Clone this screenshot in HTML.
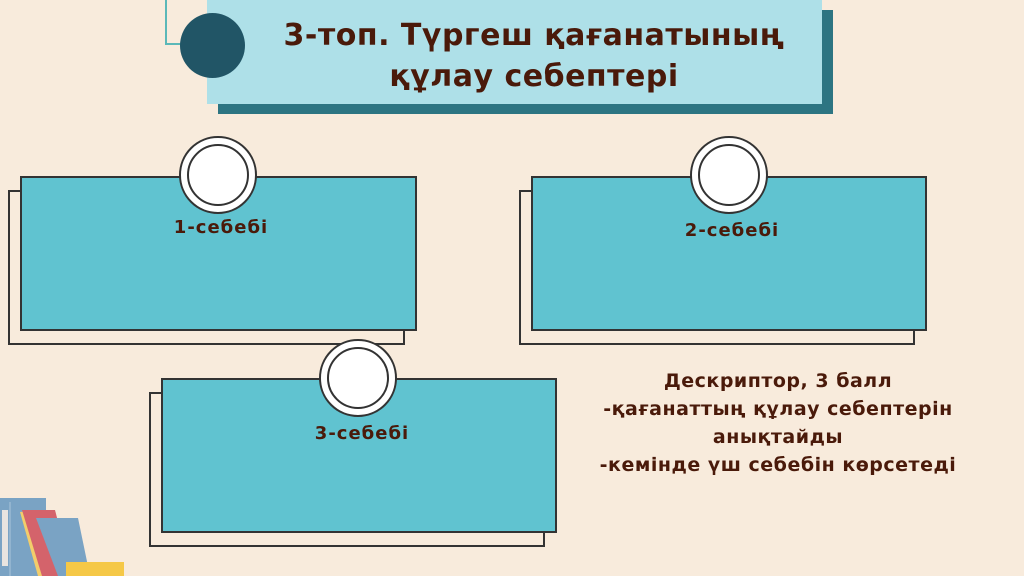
<!DOCTYPE html>
<html><head><meta charset="utf-8"><style>
body{margin:0;width:1024px;height:576px;background:#f8ebdc;position:relative;overflow:hidden;font-family:"DejaVu Sans","Liberation Sans",sans-serif;color:#4a1a0a}
.a{position:absolute;box-sizing:border-box}
.back{border:2px solid #333;background:#f8ebdc}
.front{border:2px solid #333;background:#60c3d0}
.ring{border-radius:50%;background:#fff;border:2px solid #333;width:78px;height:78px}
.ring::after{content:"";position:absolute;left:6px;top:6px;width:62px;height:62px;border-radius:50%;border:2px solid #333;box-sizing:border-box}
.lbl{font-weight:bold;font-size:18px;letter-spacing:1px;text-align:center}
</style></head><body>
<div class="a" style="left:165px;top:-2px;width:45px;height:47px;border:2px solid #5bb8b8;border-top:none"></div>
<div class="a" style="left:218px;top:10px;width:615px;height:104px;background:#2d7582"></div>
<div class="a" style="left:207px;top:0;width:615px;height:104px;background:#aee0e8"></div>
<div class="a" style="left:180px;top:13px;width:65px;height:65px;border-radius:50%;background:#215566"></div>
<div class="a" style="left:234px;top:15px;width:600px;text-align:center;font-weight:bold;font-size:30px;letter-spacing:0.5px;line-height:41px">3-топ. Түргеш қағанатының<br>құлау себептері</div>

<div class="a back" style="left:8px;top:190px;width:397px;height:155px"></div>
<div class="a front" style="left:20px;top:176px;width:397px;height:155px"></div>
<div class="a ring" style="left:179px;top:136px"></div>
<div class="a lbl" style="left:20px;top:217px;width:402px">1-себебі</div>

<div class="a back" style="left:519px;top:190px;width:396px;height:155px"></div>
<div class="a front" style="left:531px;top:176px;width:396px;height:155px"></div>
<div class="a ring" style="left:690px;top:136px"></div>
<div class="a lbl" style="left:531px;top:220px;width:402px">2-себебі</div>

<div class="a back" style="left:149px;top:392px;width:396px;height:155px"></div>
<div class="a front" style="left:161px;top:378px;width:396px;height:155px"></div>
<div class="a ring" style="left:319px;top:339px"></div>
<div class="a lbl" style="left:161px;top:423px;width:402px">3-себебі</div>

<div class="a" style="left:553px;top:367px;width:450px;text-align:center;font-weight:bold;font-size:19px;letter-spacing:0.5px;line-height:28px">Дескриптор, 3 балл<br>-қағанаттың құлау себептерін<br>анықтайды<br>-кемінде үш себебін көрсетеді</div>

<svg class="a" style="left:0;top:480px" width="140" height="96">
<rect x="0" y="18" width="46" height="78" fill="#7aa3c4"/>
<line x1="10" y1="22" x2="10" y2="96" stroke="#a9c4da" stroke-width="1"/>
<rect x="2" y="30" width="6" height="56" fill="#e8e4e0"/>
<polygon points="20,32 40,30 58,96 38,96" fill="#f2cd6b"/>
<polygon points="22,30 55,30 72,96 42,96" fill="#d4636b"/>
<polygon points="36,38 78,38 90,96 58,96" fill="#7aa3c4"/>
<rect x="66" y="82" width="58" height="14" fill="#f5c847"/>
</svg>
</body></html>
